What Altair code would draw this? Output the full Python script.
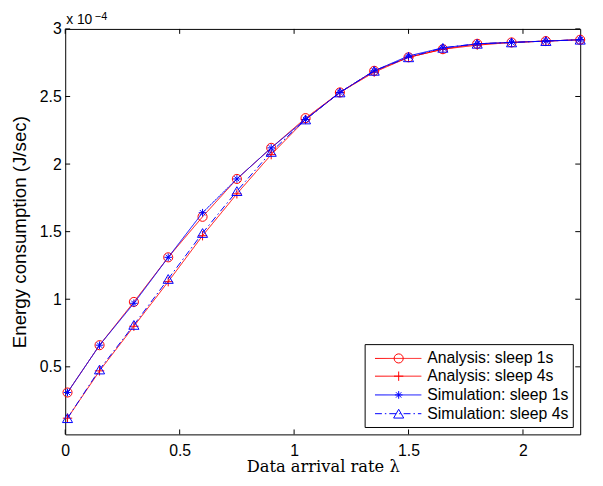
import altair as alt
import pandas as pd

# ---- data (energy values in units of 1e-4 J/sec) ----
x_vals = [0.01, 0.15, 0.3, 0.45, 0.6, 0.75, 0.9, 1.05, 1.2, 1.35, 1.5, 1.65, 1.8, 1.95, 2.1, 2.25]
ana_sleep1 = [0.31, 0.66, 0.98, 1.31, 1.61, 1.89, 2.12, 2.34, 2.53, 2.69, 2.79, 2.85, 2.89, 2.90, 2.91, 2.92]
ana_sleep4 = [0.12, 0.47, 0.80, 1.13, 1.47, 1.78, 2.07, 2.33, 2.53, 2.68, 2.79, 2.85, 2.88, 2.90, 2.91, 2.92]
sim_sleep1 = [0.31, 0.66, 0.97, 1.31, 1.64, 1.89, 2.12, 2.33, 2.53, 2.69, 2.80, 2.86, 2.89, 2.90, 2.91, 2.92]
sim_sleep4 = [0.12, 0.48, 0.81, 1.15, 1.49, 1.80, 2.09, 2.33, 2.53, 2.69, 2.79, 2.86, 2.89, 2.90, 2.91, 2.92]

series_names = ["Analysis: sleep 1s", "Analysis: sleep 4s", "Simulation: sleep 1s", "Simulation: sleep 4s"]
series_vals = [ana_sleep1, ana_sleep4, sim_sleep1, sim_sleep4]
x_ticks = [0, 0.5, 1, 1.5, 2]
y_ticks = [0.5, 1, 1.5, 2, 2.5, 3]

# ---- styles ----
PLUS = "M -1 0 L 1 0 M 0 -1 L 0 1"
STAR = "M -1 0 L 1 0 M 0 -1 L 0 1 M -0.7 -0.7 L 0.7 0.7 M -0.7 0.7 L 0.7 -0.7"
colors = ["#FF0000", "#FF0000", "#0000FF", "#0000FF"]
shapes = ["circle", PLUS, STAR, "triangle-up"]
dashes = [[1, 0], [1, 0], [1, 0], [7, 3, 1.5, 3]]
sizes = [85, 90, 60, 105]

W, H = 522, 411
SANS = "Liberation Sans"
xs = alt.Scale(domain=[0, 2.25], nice=False, zero=False)
ys = alt.Scale(domain=[0, 3], nice=False, zero=False)
xaxis = alt.Axis(values=x_ticks, format="~g", ticks=False, domain=False, grid=False,
                 labelFont=SANS, labelFontSize=16, labelColor="black", labelPadding=8,
                 title="Data arrival rate λ", titleFont="DejaVu Serif", titleFontSize=16.5,
                 titleFontWeight="normal", titleColor="black",
                 titleX=W / 2, titleY=33, titleAlign="center", titleBaseline="middle",
                 labelFlush=False)
yaxis = alt.Axis(values=y_ticks, format="~g", ticks=False, domain=False, grid=False,
                 labelFont=SANS, labelFontSize=16, labelColor="black", labelPadding=4,
                 title="Energy consumption (J/sec)", titleFont=SANS, titleFontSize=19,
                 titleFontWeight="normal", titleColor="black",
                 titleX=-46, titleY=H / 2, titleAlign="center", titleBaseline="middle",
                 labelFlush=False)

layers = []
for name, vals, c, s, d, sz in zip(series_names, series_vals, colors, shapes, dashes, sizes):
    df = pd.DataFrame({"x": x_vals, "y": vals, "series": name})
    base = alt.Chart(df).encode(x=alt.X("x:Q", scale=xs, axis=xaxis),
                                y=alt.Y("y:Q", scale=ys, axis=yaxis))
    layers.append(base.mark_line(color=c, strokeWidth=1, strokeDash=d))
    layers.append(base.mark_point(color=c, shape=s, size=sz, filled=False, strokeWidth=1, opacity=1))

# inward ticks on all four sides
xt = pd.DataFrame({"v": x_ticks})
yt = pd.DataFrame({"v": y_ticks})
TL = 5
layers.append(alt.Chart(xt).mark_rule(color="black", strokeWidth=1).encode(
    x=alt.X("v:Q", scale=xs, axis=xaxis), y=alt.value(H), y2=alt.value(H - TL)))
layers.append(alt.Chart(xt).mark_rule(color="black", strokeWidth=1).encode(
    x=alt.X("v:Q", scale=xs, axis=xaxis), y=alt.value(0), y2=alt.value(TL)))
layers.append(alt.Chart(yt).mark_rule(color="black", strokeWidth=1).encode(
    y=alt.Y("v:Q", scale=ys, axis=yaxis), x=alt.value(0), x2=alt.value(TL)))
layers.append(alt.Chart(yt).mark_rule(color="black", strokeWidth=1).encode(
    y=alt.Y("v:Q", scale=ys, axis=yaxis), x=alt.value(W), x2=alt.value(W - TL)))

# exponent annotation
layers.append(alt.Chart(pd.DataFrame({"t": ["x 10"]})).mark_text(
    font=SANS, fontSize=14, align="left", baseline="middle", color="black").encode(
    text="t:N", x=alt.value(1), y=alt.value(-9)))
layers.append(alt.Chart(pd.DataFrame({"t": ["\u22124"]})).mark_text(
    font=SANS, fontSize=11, align="left", baseline="top", color="black").encode(
    text="t:N", x=alt.value(30), y=alt.value(-18)))

# legend box
LX0, LX1, LY0, LY1 = 304, 515, 320, 404
layers.append(alt.Chart(pd.DataFrame({"a": [0]})).mark_rect(
    fill="white", stroke="black", strokeWidth=1).encode(
    x=alt.value(LX0), x2=alt.value(LX1), y=alt.value(LY0), y2=alt.value(LY1)))
row_y = [334, 352, 371, 390]
for name, c, s, d, sz, ry in zip(series_names, colors, shapes, dashes, sizes, row_y):
    ld = pd.DataFrame({"series": [name]})
    layers.append(alt.Chart(ld).mark_rule(color=c, strokeWidth=1, strokeDash=d).encode(
        x=alt.value(314), x2=alt.value(361), y=alt.value(ry)))
    layers.append(alt.Chart(ld).mark_point(color=c, shape=s, size=sz, filled=False,
                                           strokeWidth=1, opacity=1).encode(
        x=alt.value(338), y=alt.value(ry)))
    layers.append(alt.Chart(ld).mark_text(font=SANS, fontSize=16, align="left",
                                          baseline="middle", color="black").encode(
        text="series:N", x=alt.value(367), y=alt.value(ry)))

chart = alt.layer(*layers).properties(
    width=W, height=H,
    autosize=alt.AutoSizeParams(type="none"),
    padding={"left": 58, "top": 18, "right": 15, "bottom": 41},
    background="white",
).configure_view(stroke="black", strokeWidth=1)

chart.save("out.html", embed_options={"renderer": "svg", "actions": False})
